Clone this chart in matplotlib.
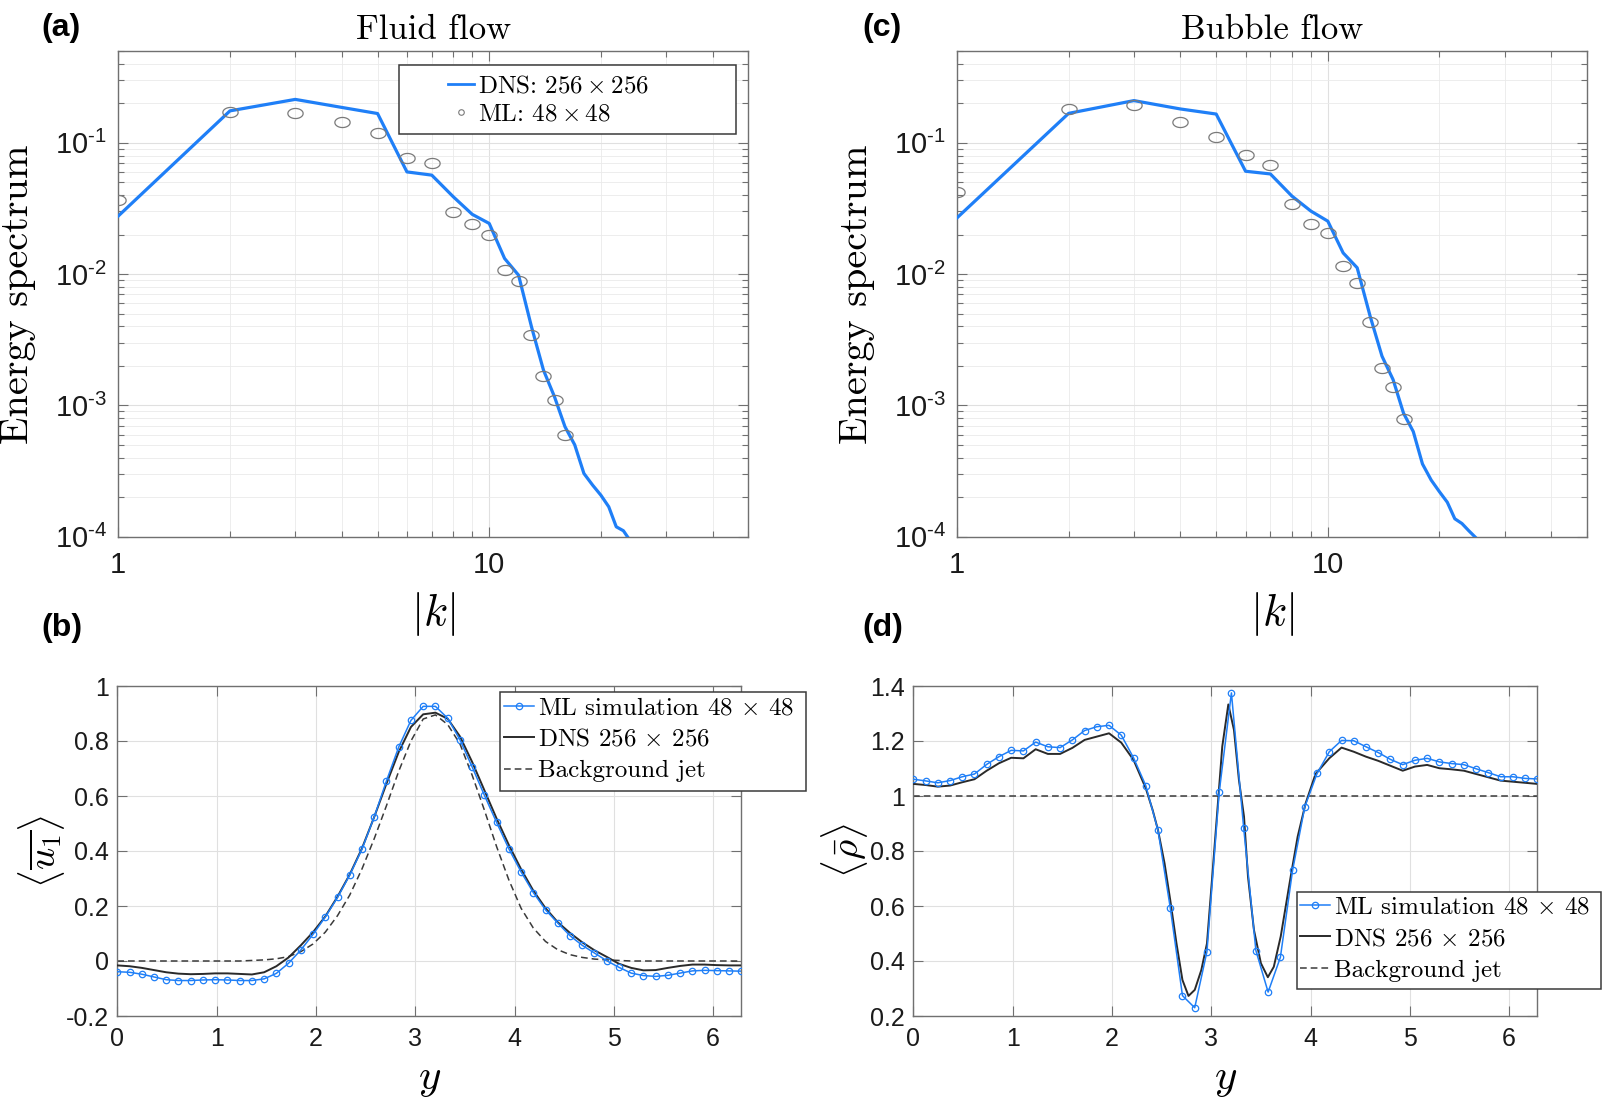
import numpy as np
import matplotlib
matplotlib.use("Agg")
import matplotlib.pyplot as plt
from matplotlib.lines import Line2D
from matplotlib.patches import Rectangle
from matplotlib.path import Path

# ---------------- data ----------------
k_fluid_dns = list(range(1, 25))
fluid_dns = [0.0277, 0.175, 0.214, 0.186, 0.167, 0.060, 0.0567, 0.0388, 0.0285, 0.0243,
             0.01315, 0.0098, 0.00397, 0.00186, 0.00116, 0.000689, 0.000501, 0.000303,
             0.000247, 0.000207, 0.000169, 0.000119, 0.000111, 0.000093]
k_fluid_ml = list(range(1, 17))
fluid_ml = [0.0366, 0.171, 0.170, 0.145, 0.118, 0.076, 0.0697, 0.0297, 0.0239, 0.0200,
            0.0107, 0.00879, 0.00343, 0.00167, 0.00110, 0.000598]

k_bubble_dns = list(range(1, 26))
bubble_dns = [0.0268, 0.1675, 0.2095, 0.181, 0.1655, 0.0607, 0.0579, 0.0393, 0.0302, 0.0253,
              0.01449, 0.01117, 0.0048, 0.00237, 0.00157, 0.000873, 0.000632, 0.000358,
              0.00027, 0.00022, 0.000183, 0.000137, 0.000126, 0.000111, 0.000099]
k_bubble_ml = list(range(1, 17))
bubble_ml = [0.0422, 0.180, 0.194, 0.145, 0.110, 0.081, 0.0679, 0.034, 0.0242, 0.0206,
             0.01145, 0.00849, 0.00432, 0.00191, 0.00138, 0.000781]

y_grid = np.linspace(0, 2 * np.pi, 52)

u_ml = [-0.039, -0.041, -0.048, -0.058, -0.068, -0.071, -0.071, -0.069, -0.068, -0.069,
        -0.071, -0.071, -0.065, -0.045, -0.008, 0.040, 0.097, 0.160, 0.231, 0.313,
        0.407, 0.524, 0.655, 0.778, 0.875, 0.926, 0.926, 0.883, 0.805, 0.706,
        0.603, 0.504, 0.408, 0.324, 0.249, 0.186, 0.138, 0.092, 0.057, 0.029,
        0.001, -0.023, -0.044, -0.053, -0.056, -0.052, -0.044, -0.036, -0.034, -0.035,
        -0.036, -0.037]
u_dns = [-0.016, -0.019, -0.025, -0.033, -0.041, -0.046, -0.048, -0.047, -0.045, -0.045,
         -0.047, -0.049, -0.041, -0.019, 0.013, 0.057, 0.105, 0.162, 0.234, 0.315,
         0.410, 0.524, 0.645, 0.760, 0.851, 0.897, 0.903, 0.881, 0.817, 0.724,
         0.621, 0.518, 0.422, 0.334, 0.256, 0.192, 0.141, 0.102, 0.068, 0.039,
         0.015, -0.010, -0.025, -0.034, -0.033, -0.025, -0.018, -0.013, -0.013, -0.015,
         -0.016, -0.016]
u_jet = [0.0, 0.0, 0.0, 0.0, 0.0, 0.0, 0.0, 0.0, 0.0, 0.0,
         0.0, 0.002, 0.004, 0.008, 0.016, 0.034, 0.062, 0.105, 0.165, 0.24,
         0.335, 0.445, 0.565, 0.69, 0.80, 0.88, 0.895, 0.86, 0.79, 0.676,
         0.549, 0.416, 0.295, 0.192, 0.12, 0.071, 0.041, 0.023, 0.013, 0.007,
         0.004, 0.002, 0.0, 0.0, 0.0, 0.0, 0.0, 0.0, 0.0, 0.0,
         0.0, 0.0]

rho_ml = [1.061, 1.055, 1.048, 1.056, 1.070, 1.080, 1.115, 1.143, 1.166, 1.164,
          1.196, 1.179, 1.176, 1.204, 1.238, 1.252, 1.257, 1.221, 1.139, 1.038,
          0.875, 0.594, 0.274, 0.230, 0.434, 1.013, 1.375, 0.885, 0.438, 0.287,
          0.413, 0.730, 0.961, 1.082, 1.161, 1.202, 1.201, 1.179, 1.158, 1.133,
          1.114, 1.130, 1.137, 1.124, 1.118, 1.114, 1.099, 1.085, 1.070, 1.070,
          1.064, 1.062]
rho_dns_y = [0.0, 0.123, 0.246, 0.370, 0.493, 0.616, 0.739, 0.862, 0.986, 1.109,
             1.232, 1.355, 1.478, 1.602, 1.725, 1.848, 1.971, 2.094, 2.218, 2.341,
             2.41, 2.464, 2.53, 2.587, 2.65, 2.71, 2.771, 2.834, 2.90, 2.957,
             3.01, 3.067, 3.111, 3.172, 3.229, 3.279, 3.33, 3.37, 3.43, 3.50,
             3.57, 3.63, 3.70, 3.80, 3.87, 3.95, 4.05, 4.188, 4.312, 4.435,
             4.558, 4.681, 4.804, 4.928, 5.051, 5.174, 5.297, 5.420, 5.544, 5.667,
             5.790, 5.913, 6.037, 6.160, 6.283]
rho_dns = [1.044, 1.040, 1.034, 1.038, 1.050, 1.061, 1.092, 1.119, 1.139, 1.137,
           1.170, 1.153, 1.153, 1.175, 1.204, 1.216, 1.228, 1.194, 1.131, 1.028,
           0.949, 0.876, 0.755, 0.622, 0.464, 0.331, 0.273, 0.295, 0.367, 0.464,
           0.707, 0.973, 1.18, 1.333, 1.24, 1.058, 0.925, 0.707, 0.513, 0.392,
           0.341, 0.379, 0.49, 0.707, 0.852, 0.973, 1.08, 1.137, 1.176, 1.161,
           1.143, 1.128, 1.110, 1.092, 1.107, 1.113, 1.101, 1.097, 1.092, 1.080,
           1.068, 1.056, 1.052, 1.048, 1.044]
rho_jet = [1.0, 1.0]
rho_jet_y = [0.0, 2 * np.pi]

spec_xticks = [1, 10]
spec_xticklabels = ["1", "10"]
spec_yticks = [1e-4, 1e-3, 1e-2, 1e-1]
spec_yticklabels = [r"$10^{\text{-}4}$", r"$10^{\text{-}3}$", r"$10^{\text{-}2}$", r"$10^{\text{-}1}$"]
y_ticks = [0, 1, 2, 3, 4, 5, 6]
y_ticklabels = ["0", "1", "2", "3", "4", "5", "6"]
u_ticks = [-0.2, 0, 0.2, 0.4, 0.6, 0.8, 1.0]
u_ticklabels = ["-0.2", "0", "0.2", "0.4", "0.6", "0.8", "1"]
rho_ticks = [0.2, 0.4, 0.6, 0.8, 1.0, 1.2, 1.4]
rho_ticklabels = ["0.2", "0.4", "0.6", "0.8", "1", "1.2", "1.4"]

# ---------------- style ----------------
plt.rcParams.update({
    'font.family': ['Liberation Sans', 'DejaVu Sans'],
    'mathtext.fontset': 'custom',
    'mathtext.rm': 'Liberation Sans',
    'mathtext.it': 'Liberation Sans:italic',
    'mathtext.bf': 'Liberation Sans:bold',
    'axes.unicode_minus': False,
})

W, H = 1606, 1099
BLUE = '#1f7ff7'
GRAYM = '#7a7a7a'
DARK = '#2a2a2a'
SPINE = '#707070'
CM = 'cmr10'

fig = plt.figure(figsize=(W / 100, H / 100), dpi=100)


def px_axes(l, t, r, b):
    return fig.add_axes([l / W, 1 - b / H, (r - l) / W, (b - t) / H])


def style_axes(ax, labelsize, logaxes):
    for s in ax.spines.values():
        s.set_color(SPINE)
        s.set_linewidth(1.0)
    ax.tick_params(which='both', direction='in', top=True, right=True, colors=SPINE,
                   labelcolor='#1a1a1a', labelsize=labelsize, width=0.8)
    ax.tick_params(which='major', length=7)
    ax.tick_params(which='minor', length=4)
    ax.set_axisbelow(True)
    ax.grid(True, which='major', color='#e0e0e0', lw=0.8)
    if logaxes:
        ax.grid(True, which='minor', color='#eaeaea', lw=0.6)


def legend_box(ax, l, t, r, b):
    rect = Rectangle((l / W, 1 - b / H), (r - l) / W, (b - t) / H, transform=fig.transFigure,
                     facecolor='white', edgecolor='#3a3a3a', lw=1.1, clip_on=False, zorder=4.5)
    ax.add_artist(rect)


theta = np.linspace(0, 2 * np.pi, 61)
ellipse = Path(np.column_stack([np.cos(theta), 0.66 * np.sin(theta)]))

panels_top = [
    ((118.3, 51, 748.5, 536.7), "Fluid flow", k_fluid_dns, fluid_dns, k_fluid_ml, fluid_ml, "(a)", (41, 28)),
    ((957, 51, 1587, 536.7), "Bubble flow", k_bubble_dns, bubble_dns, k_bubble_ml, bubble_ml, "(c)", (862, 28)),
]
for idx, (box, title, kd, ed, km, em, plabel, ppos) in enumerate(panels_top):
    ax = px_axes(*box)
    ax.set_xscale('log')
    ax.set_yscale('log')
    ax.plot(kd, ed, color=BLUE, lw=2.3, zorder=3)
    ax.plot(km, em, ls='none', marker=ellipse, ms=11, mfc='none', mec=GRAYM, mew=0.9, zorder=4)
    ax.set_xlim(1, 50)
    ax.set_ylim(1e-4, 0.5)
    style_axes(ax, 21, True)
    ax.set_xticks(spec_xticks)
    ax.set_xticklabels(spec_xticklabels)
    ax.set_yticks(spec_yticks)
    ax.set_yticklabels(spec_yticklabels)
    ax.tick_params(axis='x', which='major', pad=10)
    ax.tick_params(axis='y', which='major', pad=8)
    ax.set_title(title, fontfamily=CM, fontsize=25, pad=8.5)
    ax.set_ylabel("Energy spectrum", fontfamily=CM, fontsize=29)
    ax.yaxis.set_label_coords(-0.13, 0.5)
    xl = ax.set_xlabel(r"$|k|$", fontsize=32)
    xl.set_math_fontfamily('cm')
    ax.xaxis.set_label_coords(0.5, -0.11)
    fig.text(ppos[0] / W, 1 - ppos[1] / H, plabel, fontsize=23, fontweight='bold',
             ha='left', va='center')
    if idx == 0:
        legend_box(ax, 398.6, 64.5, 736, 134)
        h1 = Line2D([], [], color=BLUE, lw=2.0)
        h2 = Line2D([], [], ls='none', marker='o', ms=4, mfc='none', mec=GRAYM, mew=0.8)
        leg = ax.legend([h1, h2], [r"DNS: $256\times256$", r"ML: $48\times48$"],
                        loc='upper left', bbox_to_anchor=(448 / W, 1 - 75 / H),
                        bbox_transform=fig.transFigure, frameon=False,
                        prop={'family': CM, 'size': 18}, handlelength=1.05,
                        handletextpad=0.15, labelspacing=0.22, borderpad=0, borderaxespad=0)
        leg.set_zorder(5)
        for t in leg.get_texts():
            t.set_math_fontfamily('cm')

# ---------------- bottom panels ----------------
ax_b = px_axes(117.3, 686, 741.3, 1016)
ax_b.plot(y_grid, u_jet, color='#3a3a3a', lw=1.1, ls=(0, (4.4, 2.6)), zorder=2)
ax_b.plot(y_grid, u_dns, color=DARK, lw=1.4, zorder=3)
ax_b.plot(y_grid, u_ml, color=BLUE, lw=1.1, marker='o', ms=4.6, mfc='none', mec=BLUE, mew=0.9,
          zorder=4)
ax_b.set_xlim(0, 2 * np.pi)
ax_b.set_ylim(-0.2, 1.0)

ax_d = px_axes(913.3, 686, 1537.3, 1016)
ax_d.plot(rho_jet_y, rho_jet, color='#3a3a3a', lw=1.1, ls=(0, (4.4, 2.6)), zorder=2)
ax_d.plot(rho_dns_y, rho_dns, color=DARK, lw=1.4, zorder=3)
ax_d.plot(y_grid, rho_ml, color=BLUE, lw=1.1, marker='o', ms=4.6, mfc='none', mec=BLUE, mew=0.9,
          zorder=4)
ax_d.set_xlim(0, 2 * np.pi)
ax_d.set_ylim(0.2, 1.4)

bottom_specs = [
    (ax_b, u_ticks, u_ticklabels, r"$\langle\overline{u_1}\rangle$", -0.081, "(b)", (41, 628),
     (500.5, 692.3, 806, 791), (504, 697)),
    (ax_d, rho_ticks, rho_ticklabels, r"$\langle\bar{\rho}\rangle$", -0.069, "(d)", (862, 628),
     (1296.7, 891.7, 1601, 989), (1300, 896)),
]
for ax, yt, ytl, ylab, ylx, plabel, ppos, lbox, lanchor in bottom_specs:
    style_axes(ax, 18, False)
    ax.set_xticks(y_ticks)
    ax.set_xticklabels(y_ticklabels)
    ax.set_yticks(yt)
    ax.set_yticklabels(ytl)
    ax.tick_params(axis='x', pad=8)
    ax.tick_params(axis='y', pad=6)
    yl = ax.set_ylabel(ylab, fontsize=28)
    yl.set_math_fontfamily('cm')
    ax.yaxis.set_label_coords(ylx, 0.5)
    xl = ax.set_xlabel(r"$y$", fontsize=31)
    xl.set_math_fontfamily('cm')
    ax.xaxis.set_label_coords(0.5, -0.13)
    fig.text(ppos[0] / W, 1 - ppos[1] / H, plabel, fontsize=23, fontweight='bold',
             ha='left', va='center')
    legend_box(ax, *lbox)
    h_ml = Line2D([], [], color=BLUE, lw=1.1, marker='o', ms=4.6, mfc='none', mec=BLUE, mew=0.9)
    h_dns = Line2D([], [], color=DARK, lw=1.4)
    h_bg = Line2D([], [], color='#3a3a3a', lw=1.1, ls=(0, (4.4, 2.6)))
    leg = ax.legend([h_ml, h_dns, h_bg],
                    [r"ML simulation 48 $\times$ 48", r"DNS 256 $\times$ 256", "Background jet"],
                    loc='upper left', bbox_to_anchor=(lanchor[0] / W, 1 - lanchor[1] / H),
                    bbox_transform=fig.transFigure, frameon=False,
                    prop={'family': CM, 'size': 18}, handlelength=1.2,
                    handletextpad=0.15, labelspacing=0.36, borderpad=0, borderaxespad=0)
    leg.set_zorder(5)
    for t in leg.get_texts():
        t.set_math_fontfamily('cm')

fig.savefig("out.png", dpi=100)
